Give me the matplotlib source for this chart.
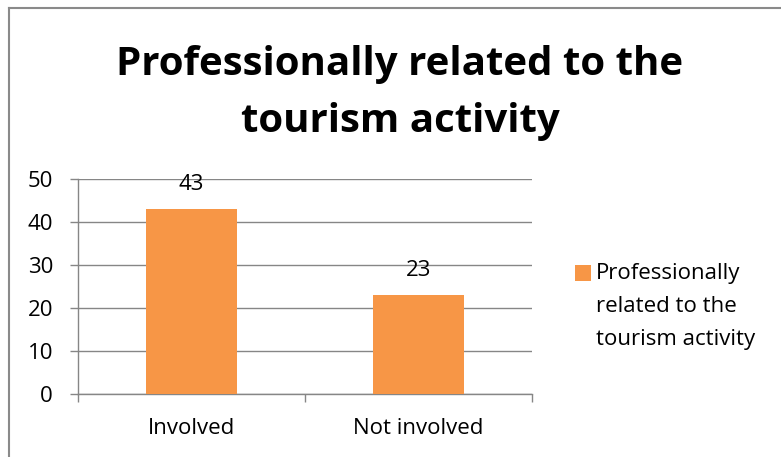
import matplotlib.pyplot as plt
import matplotlib.lines as mlines
import matplotlib.patches as mpatches
import numpy as np

categories = ["Involved", "Not involved"]
values = [43, 23]
series_name = ["Professionally", "related to the", "tourism activity"]
title_lines = ["Professionally related to the", "tourism activity"]
yticks = [0, 10, 20, 30, 40, 50]

bar_color = "#F79646"
grid_color = "#868686"
font = "Open Sans"
fs = 16

W, H = 781, 457
fig = plt.figure(figsize=(W / 100, H / 100), dpi=100)

# chart frame (left and top edges visible)
fig.add_artist(mlines.Line2D([9 / W, 9 / W], [0, 1 - 8 / H], color="#8a8a8a", lw=1.5))
fig.add_artist(mlines.Line2D([9 / W, 1], [1 - 8 / H, 1 - 8 / H], color="#8a8a8a", lw=1.5))

ax = fig.add_axes([78 / W, (H - 394) / H, (532 - 78) / W, (394 - 179) / H])

x = np.arange(len(categories))
bars = ax.bar(x, values, width=0.4, color=bar_color, zorder=3)

for xi, v in zip(x, values):
    ax.annotate(str(v), (xi, v), xytext=(0, 25), textcoords="offset pixels",
                ha="center", va="center", fontsize=fs, family=font, zorder=4)

ax.set_xlim(-0.5, len(categories) - 0.5)
ax.set_ylim(0, 50)
ax.set_yticks(yticks)
ax.set_yticklabels([str(t) for t in yticks], fontsize=fs, family=font)
ax.set_xticks(x)
ax.set_xticklabels(categories, fontsize=fs, family=font)
ax.set_xticks(np.arange(len(categories) + 1) - 0.5, minor=True)

ax.tick_params(axis="x", which="major", length=0, pad=17)
ax.tick_params(axis="x", which="minor", length=6, width=1, color=grid_color, direction="out")
ax.tick_params(axis="y", length=6, width=1, color=grid_color, pad=12)

ax.yaxis.grid(True, color=grid_color, lw=1, zorder=0)
ax.set_axisbelow(True)
for s in ["top", "right"]:
    ax.spines[s].set_visible(False)
for s in ["left", "bottom"]:
    ax.spines[s].set_color(grid_color)
    ax.spines[s].set_linewidth(1)

# title, two lines
for line, base in zip(title_lines, [75, 132]):
    fig.text(400 / W, 1 - base / H, line, ha="center", va="baseline", fontsize=29,
             fontweight="bold", family=font)

# legend: swatch next to the first line of the series name
fig.add_artist(mpatches.Rectangle((575 / W, 1 - 281 / H), 16 / W, 16 / H,
                                  facecolor=bar_color, edgecolor="none",
                                  transform=fig.transFigure))
for i, line in enumerate(series_name):
    fig.text(596 / W, 1 - (273 + 33.5 * i) / H, line, ha="left", va="center",
             fontsize=fs, family=font)

fig.savefig("out.png", dpi=100)
